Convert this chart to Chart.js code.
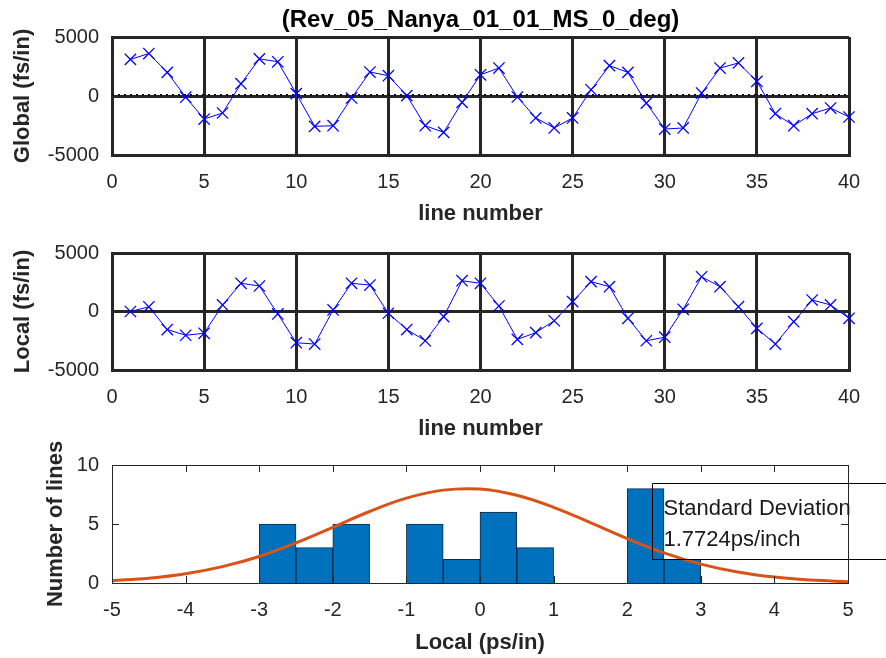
<!DOCTYPE html>
<html>
<head>
<meta charset="utf-8">
<script src="https://cdn.jsdelivr.net/npm/chart.js@4.4.1/dist/chart.umd.min.js"></script>
<style>
  body { margin: 0; background: #fff; }
  #wrap { position: relative; width: 886px; height: 658px; }
  canvas { position: absolute; left: 0; }
</style>
</head>
<body>
<div id="wrap">
  <canvas id="globalChart" width="886" height="232" style="top:0"></canvas>
  <canvas id="localChart" width="886" height="219" style="top:228px"></canvas>
  <canvas id="histChart" width="886" height="218" style="top:440px"></canvas>
</div>
<script>
const lineNumbers = [1, 2, 3, 4, 5, 6, 7, 8, 9, 10, 11, 12, 13, 14, 15, 16, 17, 18, 19, 20,
    21, 22, 23, 24, 25, 26, 27, 28, 29, 30, 31, 32, 33, 34, 35, 36, 37, 38, 39, 40];
const globalVals = [3100, 3600, 2000, -100, -1950, -1440, 1040, 3150, 2900, 200,
    -2570, -2520, -170, 2030, 1720, 30, -2520, -3080, -540, 1800,
    2370, -85, -1860, -2710, -1860, 530, 2570, 2000, -600, -2800,
    -2710, 250, 2370, 2800, 1240, -1500, -2520, -1500, -1020, -1780];
const localVals = [0, 400, -1540, -2030, -1860, 560, 2410, 2180, -210, -2670,
    -2780, 130, 2410, 2260, -150, -1540, -2500, -440, 2630, 2410,
    470, -2380, -1810, -790, 840, 2550, 2120, -580, -2500, -2200,
    190, 2970, 2120, 410, -1440, -2780, -870, 980, 560, -580];
const globalRef = 100;

const binCenters = [-2.75, -2.25, -1.75, -1.25, -0.75, -0.25, 0.25, 0.75, 1.25, 1.75, 2.25, 2.75];
const binCounts = [5, 3, 5, 0, 5, 2, 6, 3, 0, 0, 8, 2];
const fitX = [-5, -4.5, -4, -3.5, -3, -2.5, -2, -1.5, -1, -0.5, 0, 0.5, 1, 1.5, 2, 2.5, 3, 3.5, 4, 4.5, 5];
const fitY = [0.2, 0.41, 0.79, 1.39, 2.25, 3.4, 4.72, 6.06, 7.19, 7.87, 7.96, 7.43, 6.41, 5.11, 3.76, 2.55, 1.6, 0.93, 0.5, 0.25, 0.11];

const titleText = "(Rev_05_Nanya_01_01_MS_0_deg)";
const stdLines = ["Standard Deviation", "1.7724ps/inch"];

Chart.defaults.font.family = "'Liberation Sans', Arial, sans-serif";
Chart.defaults.color = "#262626";

const dark = "#262626";

const titlePlugin = {
    id: "titleText",
    afterDraw(chart) {
        const { ctx, chartArea } = chart;
        ctx.save();
        ctx.font = "bold 24px 'Liberation Sans', Arial, sans-serif";
        ctx.fillStyle = "#000";
        ctx.textAlign = "center";
        ctx.textBaseline = "middle";
        ctx.fillText(titleText, (chartArea.left + chartArea.right) / 2, 20);
        ctx.restore();
    }
};

const refLinePlugin = {
    id: "refLine",
    beforeDatasetsDraw(chart) {
        const { ctx, chartArea, scales } = chart;
        const y = scales.y.getPixelForValue(globalRef);
        ctx.save();
        ctx.strokeStyle = "#000";
        ctx.lineWidth = 1.5;
        ctx.setLineDash([2, 4]);
        ctx.beginPath();
        ctx.moveTo(chartArea.left, y);
        ctx.lineTo(chartArea.right, y);
        ctx.stroke();
        ctx.restore();
    }
};

function waveChart(id, yLabel, values, padTop, plugins) {
    return new Chart(document.getElementById(id), {
        type: "line",
        data: {
            datasets: [{
                data: lineNumbers.map((n, i) => ({ x: n, y: values[i] })),
                borderColor: "#0000ff", borderWidth: 1, tension: 0, clip: false,
                pointStyle: "crossRot", pointRadius: 8, pointBorderColor: "#0000ff", pointBorderWidth: 1.3
            }]
        },
        options: {
            responsive: false, animation: false, devicePixelRatio: 1,
            layout: { padding: { top: padTop, right: 37, left: 0, bottom: 0 } },
            plugins: { legend: { display: false }, tooltip: { enabled: false } },
            scales: {
                x: {
                    type: "linear", min: 0, max: 40,
                    afterFit: s => { s.height = 77; },
                    ticks: { stepSize: 5, padding: 15, font: { size: 20 } },
                    grid: { color: dark, lineWidth: 3, drawTicks: false },
                    border: { color: dark, width: 3 },
                    title: { display: true, text: "line number", color: dark, font: { size: 22, weight: "bold" }, padding: { top: 0, bottom: 4.8 } }
                },
                y: {
                    min: -5000, max: 5000,
                    afterFit: s => { s.width = 112; },
                    ticks: { stepSize: 5000, padding: 13, font: { size: 20 }, callback: v => String(v) },
                    grid: { color: dark, lineWidth: 3, drawTicks: false },
                    border: { color: dark, width: 3 },
                    title: { display: true, text: yLabel, color: dark, font: { size: 22, weight: "bold" }, padding: { top: 10, bottom: 0 } }
                }
            }
        },
        plugins: plugins
    });
}

waveChart("globalChart", "Global (fs/in)", globalVals, 37, [titlePlugin, refLinePlugin]);
waveChart("localChart", "Local (fs/in)", localVals, 25, []);

const histFrame = {
    id: "histFrame",
    afterDraw(chart) {
        const { ctx, chartArea: a, scales } = chart;
        ctx.save();
        ctx.strokeStyle = dark;
        ctx.lineWidth = 1;
        ctx.strokeRect(a.left + 0.5, a.top + 0.5, a.right - a.left, a.bottom - a.top);
        ctx.beginPath();
        scales.x.ticks.forEach(t => {
            const x = Math.round(scales.x.getPixelForValue(t.value)) + 0.5;
            ctx.moveTo(x, a.top); ctx.lineTo(x, a.top + 7);
            ctx.moveTo(x, a.bottom); ctx.lineTo(x, a.bottom - 7);
        });
        scales.y.ticks.forEach(t => {
            const y = Math.round(scales.y.getPixelForValue(t.value)) + 0.5;
            ctx.moveTo(a.left, y); ctx.lineTo(a.left + 7, y);
            ctx.moveTo(a.right, y); ctx.lineTo(a.right - 7, y);
        });
        ctx.stroke();

        // text box with standard deviation
        const bx = Math.round(scales.x.getPixelForValue(2.34)) + 0.5;
        const by = Math.round(scales.y.getPixelForValue(8.5)) + 0.5;
        const bb = Math.round(scales.y.getPixelForValue(2)) + 0.5;
        ctx.strokeStyle = "#000";
        ctx.beginPath();
        ctx.moveTo(900, by); ctx.lineTo(bx, by); ctx.lineTo(bx, bb); ctx.lineTo(900, bb);
        ctx.stroke();
        ctx.fillStyle = "#1a1a1a";
        ctx.font = "22px 'Liberation Sans', Arial, sans-serif";
        ctx.textBaseline = "alphabetic";
        ctx.fillText(stdLines[0], bx + 11, by + 31);
        ctx.fillText(stdLines[1], bx + 11, by + 62);
        ctx.restore();
    }
};

new Chart(document.getElementById("histChart"), {
    data: {
        datasets: [
            {
                type: "line", order: 0,
                data: fitX.map((x, i) => ({ x: x, y: fitY[i] })),
                borderColor: "#d95319", borderWidth: 3, pointRadius: 0, tension: 0.4
            },
            {
                type: "bar", order: 1,
                data: binCenters.map((x, i) => ({ x: x, y: binCounts[i] })),
                backgroundColor: "#0072bd", borderColor: "#0e2a44", borderWidth: 1,
                barPercentage: 1, categoryPercentage: 1, grouped: false
            }
        ]
    },
    options: {
        responsive: false, animation: false, devicePixelRatio: 1,
        layout: { padding: { top: 25, right: 38, left: 0, bottom: 0 } },
        plugins: { legend: { display: false }, tooltip: { enabled: false } },
        scales: {
            x: {
                type: "linear", min: -5, max: 5, offset: false,
                afterFit: s => { s.height = 75; },
                ticks: { stepSize: 1, padding: 15, font: { size: 20 } },
                grid: { display: false, drawTicks: false, offset: false },
                border: { color: dark, width: 1 },
                title: { display: true, text: "Local (ps/in)", color: dark, font: { size: 22, weight: "bold" }, padding: { top: 0, bottom: 2 } }
            },
            y: {
                type: "linear", min: 0, max: 10,
                afterFit: s => { s.width = 112; },
                ticks: { stepSize: 5, padding: 13, font: { size: 20 } },
                grid: { display: false, drawTicks: false },
                border: { color: dark, width: 1 },
                title: { display: true, text: "Number of lines", color: dark, font: { size: 22, weight: "bold" }, padding: { top: 43, bottom: 0 } }
            }
        }
    },
    plugins: [histFrame]
});
</script>
</body>
</html>
